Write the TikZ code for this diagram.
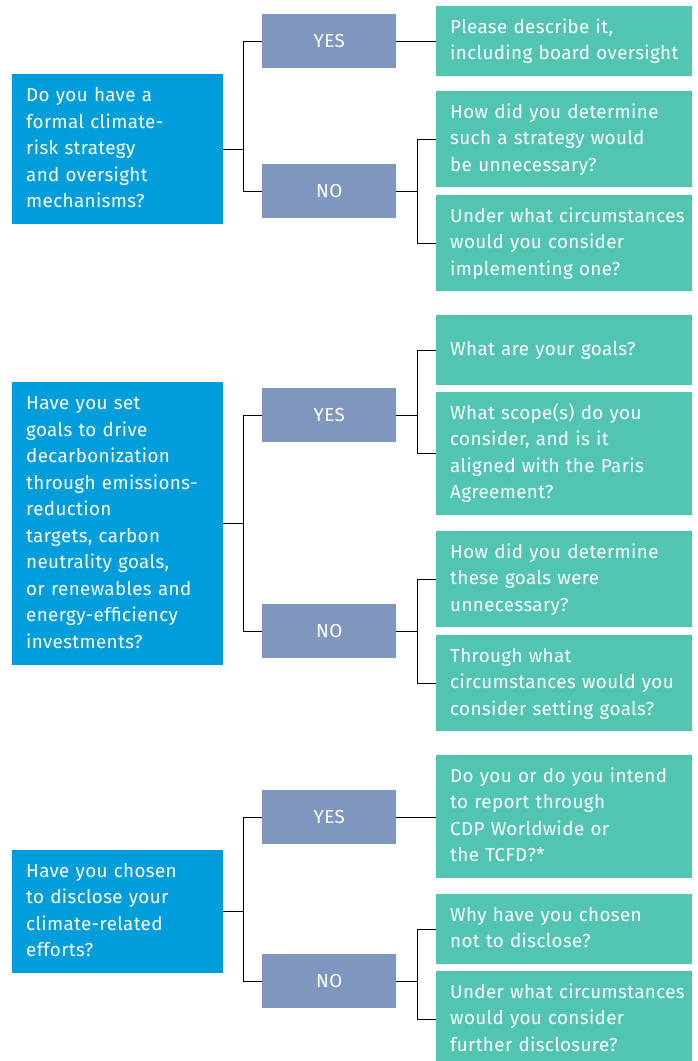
\documentclass[tikz,border=0pt]{standalone}
\usepackage{fontspec}
\setmainfont{Fira Sans}[LetterSpace=2]
\definecolor{qblue}{RGB}{0,157,219}
\definecolor{ynblue}{RGB}{127,151,190}
\definecolor{agreen}{RGB}{82,197,178}
\newcommand\mylines[1]{\begin{tabular}{@{}l@{}}#1\end{tabular}}
\begin{document}
\begin{tikzpicture}[x=1pt,y=-1pt,
  txt/.style={text=white,font=\fontsize{18.8}{26.5}\selectfont},
  qbox/.style={txt,fill=qblue,anchor=north west,minimum width=211pt,text width=183pt,inner xsep=14pt,inner ysep=0pt,align=left},
  ynbox/.style={txt,fill=ynblue,anchor=north west,minimum width=134pt,minimum height=54pt,inner sep=0pt,align=center},
  abox/.style={txt,fill=agreen,anchor=north west,minimum width=256pt,text width=228pt,inner xsep=14pt,inner ysep=0pt,align=left},
  link/.style={draw=black,line width=1.2pt}]
\useasboundingbox (0,0) rectangle (697,1061);
% Section 1
\node[qbox,minimum height=150pt] (q1) at (12,74) {\mylines{Do you have a\\formal climate-\\risk strategy\\and oversight\\mechanisms?}};
\node[ynbox] (y1) at (262,14) {YES};
\node[ynbox] (n1) at (262,164) {NO};
\node[abox,minimum height=70pt] (a1) at (436,6) {\mylines{Please describe it,\\including board oversight}};
\node[abox,minimum height=96pt] (a2) at (436,91) {\mylines{How did you determine\\such a strategy would\\be unnecessary?}};
\node[abox,minimum height=96pt] (a3) at (436,195) {\mylines{Under what circumstances\\would you consider\\implementing one?}};
% Section 2
\node[qbox,minimum height=283pt] (q2) at (12,382) {\mylines{Have you set\\goals to drive\\decarbonization\\through emissions-\\reduction\\targets, carbon\\neutrality goals,\\or renewables and\\energy-efficiency\\investments?}};
\node[ynbox] (y2) at (262,388) {YES};
\node[ynbox] (n2) at (262,604) {NO};
\node[abox,minimum height=70pt] (a4) at (436,315) {\mylines{What are your goals?}};
\node[abox,minimum height=123pt] (a5) at (436,392) {\mylines{What scope(s) do you\\consider, and is it\\aligned with the Paris\\Agreement?}};
\node[abox,minimum height=96pt] (a6) at (436,531) {\mylines{How did you determine\\these goals were\\unnecessary?}};
\node[abox,minimum height=96pt] (a7) at (436,635) {\mylines{Through what\\circumstances would you\\consider setting goals?}};
% Section 3
\node[qbox,minimum height=123pt] (q3) at (12,850) {\mylines{Have you chosen\\to disclose your\\climate-related\\efforts?}};
\node[ynbox] (y3) at (262,790) {YES};
\node[ynbox] (n3) at (262,954) {NO};
\node[abox,minimum height=123pt] (a8) at (436,755) {\mylines{Do you or do you intend\\to report through\\CDP Worldwide or\\the TCFD?*}};
\node[abox,minimum height=70pt] (a9) at (436,894) {\mylines{Why have you chosen\\not to disclose?}};
\node[abox,minimum height=96pt] (a10) at (436,971) {\mylines{Under what circumstances\\would you consider\\further disclosure?}};
% connectors
\foreach \q/\y/\n in {q1/y1/n1,q2/y2/n2,q3/y3/n3}{
  \draw[link] (\q.east) -- ++(20,0) coordinate (j-\q);
  \draw[link] (j-\q) |- (\y.west);
  \draw[link] (j-\q) |- (\n.west);
}
\draw[link] (y1.east) -- (y1.east -| a1.west);
\draw[link] (n1.east) -- ++(21,0) coordinate (jn1);
\draw[link] (jn1) |- (a2.west);
\draw[link] (jn1) |- (a3.west);
\draw[link] (y2.east) -- ++(21,0) coordinate (jy2);
\draw[link] (jy2) |- (a4.west);
\draw[link] (jy2) |- (a5.west);
\draw[link] (n2.east) -- ++(21,0) coordinate (jn2);
\draw[link] (jn2) |- (a6.west);
\draw[link] (jn2) |- (a7.west);
\draw[link] (y3.east) -- (y3.east -| a8.west);
\draw[link] (n3.east) -- ++(21,0) coordinate (jn3);
\draw[link] (jn3) |- (a9.west);
\draw[link] (jn3) |- (a10.west);
\end{tikzpicture}
\end{document}
